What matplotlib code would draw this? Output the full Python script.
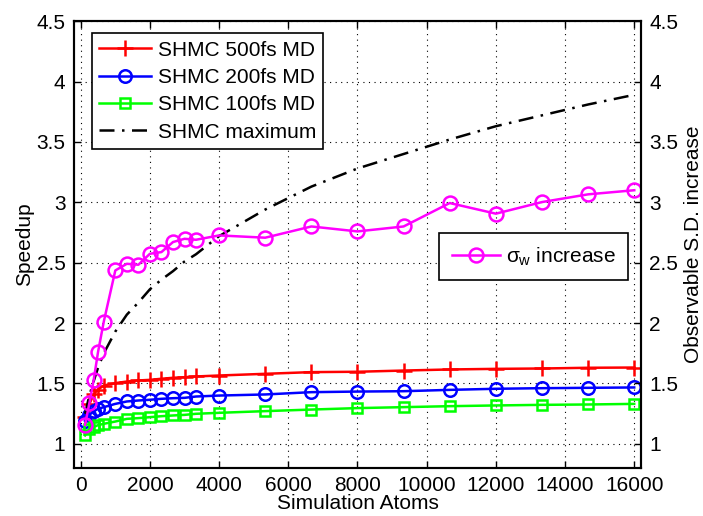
import matplotlib
matplotlib.use("Agg")
import matplotlib.pyplot as plt

plt.rcParams['font.family'] = ['Liberation Sans', 'DejaVu Sans']
plt.rcParams['mathtext.fontset'] = 'custom'
plt.rcParams['mathtext.rm'] = 'Liberation Sans'
plt.rcParams['mathtext.it'] = 'Liberation Sans'
plt.rcParams['font.size'] = 15

# %% data
atoms = [125, 250, 375, 500, 667, 1000, 1333, 1667, 2000, 2333, 2667, 3000,
         3333, 4000, 5333, 6667, 8000, 9333, 10667, 12000, 13333, 14667, 16000]

shmc500 = [1.22, 1.33, 1.41, 1.45, 1.483, 1.503, 1.516, 1.525, 1.530, 1.539,
           1.547, 1.552, 1.558, 1.566, 1.580, 1.594, 1.597, 1.607, 1.616,
           1.621, 1.624, 1.630, 1.632]
shmc200 = [1.19, 1.24, 1.27, 1.29, 1.304, 1.331, 1.351, 1.359, 1.365, 1.373,
           1.378, 1.381, 1.392, 1.400, 1.409, 1.428, 1.433, 1.436, 1.447,
           1.456, 1.461, 1.464, 1.467]
shmc100 = [1.07, 1.12, 1.14, 1.155, 1.166, 1.185, 1.207, 1.213, 1.221, 1.229,
           1.235, 1.240, 1.249, 1.257, 1.271, 1.284, 1.296, 1.304, 1.312,
           1.318, 1.323, 1.326, 1.331]
shmcMax = [1.25, 1.40, 1.52, 1.63, 1.75, 1.93, 2.07, 2.17, 2.28, 2.36, 2.43,
           2.51, 2.57, 2.72, 2.94, 3.13, 3.28, 3.40, 3.52, 3.63, 3.72, 3.81,
           3.89]
sigmaW = [1.157, 1.337, 1.53, 1.76, 2.013, 2.436, 2.491, 2.483, 2.574, 2.588,
          2.671, 2.698, 2.69, 2.726, 2.707, 2.80, 2.759, 2.80, 2.994, 2.906,
          3.002, 3.066, 3.10]

xticks = list(range(0, 16001, 2000))
yticks = [1, 1.5, 2, 2.5, 3, 3.5, 4, 4.5]
ytickLabels = ['1', '1.5', '2', '2.5', '3', '3.5', '4', '4.5']

# %% figure
fig = plt.figure(figsize=(7.03, 5.16), dpi=100)
ax = fig.add_axes([0.105, 0.093, 0.807, 0.866])
ax2 = ax.twinx()

lw = 1.8
ax.plot(atoms, shmc500, color='red', lw=lw, marker='+', ms=11, mew=1.8,
        label='SHMC 500fs MD')
ax.plot(atoms, shmc200, color='blue', lw=lw, marker='o', ms=9, mew=1.8,
        mfc='none', label='SHMC 200fs MD')
ax.plot(atoms, shmc100, color=(0, 1, 0), lw=lw, marker='s', ms=7.5, mew=1.8,
        mfc='none', label='SHMC 100fs MD')
ax.plot(atoms, shmcMax, color='black', lw=lw, ls=(0, (6, 3, 1, 3)),
        label='SHMC maximum')

ax2.plot(atoms, sigmaW, color=(1, 0, 1), lw=lw, marker='o', ms=10, mew=1.8,
         mfc='none', label=r'$\sigma_{\rm w}$ increase')

for a in (ax, ax2):
    a.set_xlim(-200, 16200)
    a.set_ylim(0.8, 4.5)
    a.set_yticks(yticks)
    a.set_yticklabels(ytickLabels)
    for s in a.spines.values():
        s.set_linewidth(1.5)

ax.set_xticks(xticks)
ax.tick_params(direction='in', length=5, width=1, top=True, right=False,
               labelsize=15, pad=6)
ax2.tick_params(direction='in', length=5, width=1, labelsize=15, pad=6)
ax.grid(True, color='black', ls=(0, (1, 4)), lw=0.8)

ax.set_xlabel('Simulation Atoms', fontsize=15, labelpad=-1)
ax.set_ylabel('Speedup', fontsize=15, labelpad=2)
ax2.set_ylabel('Observable S.D. increase', fontsize=15, labelpad=4)

leg1 = ax.legend(loc='upper left', bbox_to_anchor=(0.032, 0.973),
                 borderaxespad=0, fancybox=False, edgecolor='black',
                 framealpha=1, handlelength=2.5, handletextpad=0.3,
                 labelspacing=0.4, borderpad=0.35, fontsize=15)
leg1.get_frame().set_linewidth(1.2)

leg2 = ax2.legend(loc='upper right', bbox_to_anchor=(0.977, 0.526),
                  borderaxespad=0, fancybox=False, edgecolor='black',
                  framealpha=1, handlelength=2.3, handletextpad=0.3,
                  borderpad=0.6, fontsize=15)
leg2.get_frame().set_linewidth(1.2)

fig.savefig('out.png', dpi=100)
